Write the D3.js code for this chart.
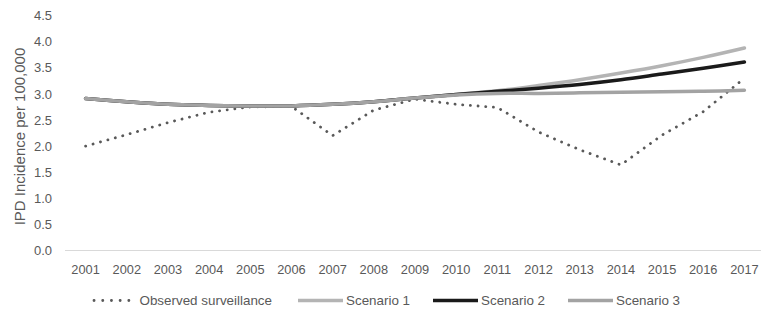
<!DOCTYPE html>
<html>
<head>
<meta charset="utf-8">
<script src="https://cdn.jsdelivr.net/npm/d3@7"></script>
<style>
  body { margin: 0; background: #fff; }
  text { font-family: "Liberation Sans", Arial, sans-serif; fill: #595959; }
</style>
</head>
<body>
<div id="chart"></div>
<script>
// data
var years = ["2001","2002","2003","2004","2005","2006","2007","2008","2009","2010","2011","2012","2013","2014","2015","2016","2017"];
var observed  = [2.00, 2.22, 2.45, 2.65, 2.75, 2.76, 2.20, 2.69, 2.90, 2.80, 2.74, 2.27, 1.93, 1.64, 2.21, 2.66, 3.30];
var scenario1 = [2.91, 2.85, 2.80, 2.78, 2.77, 2.77, 2.80, 2.85, 2.92, 2.99, 3.06, 3.16, 3.27, 3.40, 3.54, 3.70, 3.88];
var scenario2 = [2.91, 2.85, 2.80, 2.78, 2.77, 2.77, 2.80, 2.85, 2.92, 2.99, 3.05, 3.11, 3.18, 3.27, 3.38, 3.49, 3.61];
var scenario3 = [2.91, 2.85, 2.80, 2.78, 2.77, 2.77, 2.80, 2.85, 2.92, 2.98, 3.01, 3.01, 3.02, 3.03, 3.04, 3.05, 3.07];
var yTicks = [0, 0.5, 1, 1.5, 2, 2.5, 3, 3.5, 4, 4.5];
var seriesNames = ["Observed surveillance", "Scenario 1", "Scenario 2", "Scenario 3"];

var width = 761, height = 311;
var margin = {top: 15.6, right: -4, bottom: 60.5, left: 65};
var w = width - margin.left - margin.right;
var h = height - margin.top - margin.bottom;

var svg = d3.select("#chart").append("svg").attr("width", width).attr("height", height);
var g = svg.append("g").attr("transform", "translate(" + margin.left + "," + margin.top + ")");

var x = d3.scaleBand().domain(years).range([0, w]);
var y = d3.scaleLinear().domain([0, 4.5]).range([h, 0]);
var cx = function(i) { return x(years[i]) + x.bandwidth() / 2; };

// baseline
g.append("line").attr("x1", 0).attr("x2", w).attr("y1", y(0)).attr("y2", y(0))
  .attr("stroke", "#d9d9d9").attr("stroke-width", 1);

// y axis labels
var yAxis = d3.axisLeft(y).tickValues(yTicks).tickSize(0).tickPadding(13).tickFormat(d3.format(".1f"));
g.append("g").call(yAxis).call(function(s) { s.select(".domain").remove(); })
  .selectAll("text").style("font-size", "13px").attr("fill", "#595959");

// x axis labels
var xAxis = d3.axisBottom(x).tickSize(0).tickPadding(14);
g.append("g").attr("transform", "translate(0," + h + ")").call(xAxis)
  .call(function(s) { s.select(".domain").remove(); })
  .selectAll("text").style("font-size", "12.8px").attr("fill", "#595959");

// y title
svg.append("text")
  .attr("transform", "translate(24.5,136.5) rotate(-90)")
  .attr("text-anchor", "middle").style("font-size", "15px")
  .text("IPD Incidence per 100,000");

var smooth = d3.line().x(function(d, i) { return cx(i); }).y(function(d) { return y(d); }).curve(d3.curveCatmullRom.alpha(0.5));
var straight = d3.line().x(function(d, i) { return cx(i); }).y(function(d) { return y(d); });

var styles = [
  {data: observed, color: "#595959", width: 2.8, dash: "0.1 7.6", line: straight},
  {data: scenario1, color: "#b4b4b4", width: 3.5, dash: null, line: smooth},
  {data: scenario2, color: "#1a1a1a", width: 3.5, dash: null, line: smooth},
  {data: scenario3, color: "#a3a3a3", width: 3.5, dash: null, line: smooth}
];

// drawn in series order, last one on top
styles.forEach(function(s) {
  g.append("path").datum(s.data)
    .attr("d", s.line)
    .attr("fill", "none")
    .attr("stroke", s.color)
    .attr("stroke-width", s.width)
    .attr("stroke-linecap", "round")
    .attr("stroke-dasharray", s.dash);
});

// legend
var legendX = [94, 298, 433, 568];
var legend = svg.append("g").attr("transform", "translate(0,300.5)");
seriesNames.forEach(function(name, k) {
  var s = styles[k];
  legend.append("line").attr("x1", legendX[k]).attr("x2", legendX[k] + (k === 0 ? 43 : 45)).attr("y1", 0).attr("y2", 0)
    .attr("stroke", s.color).attr("stroke-width", s.width)
    .attr("stroke-linecap", k === 0 ? "round" : "butt")
    .attr("stroke-dasharray", k === 0 ? "0.1 8.6" : null);
  legend.append("text").attr("x", legendX[k] + (k === 0 ? 45.5 : 48)).attr("y", 0).attr("dy", "0.35em")
    .style("font-size", "13.4px").text(name);
});
</script>
</body>
</html>
